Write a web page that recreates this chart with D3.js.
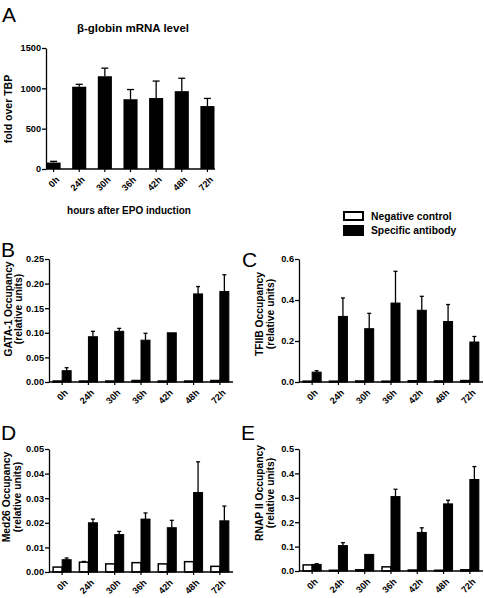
<!DOCTYPE html>
<html><head><meta charset="utf-8">
<script src="https://cdn.jsdelivr.net/npm/d3@7"></script>
<style>
html,body{margin:0;padding:0;background:#fff;}
svg{display:block;font-family:Arial,"Liberation Sans",Helvetica,sans-serif;}
</style></head>
<body>
<svg id="chart" width="484" height="598"></svg>
<script>
// ---------- data ----------
const categories = ["0h","24h","30h","36h","42h","48h","72h"];

// Panel A: beta-globin mRNA (fold over TBP)
const mrnaMean = [80, 1020, 1150, 865, 880, 965, 780];
const mrnaErr  = [15, 30, 100, 120, 210, 160, 95];
const mrnaTicks = [0, 500, 1000, 1500];

// Panel B: GATA-1
const gataNeg     = [0.002, 0.002, 0.002, 0.003, 0.002, 0.002, 0.003];
const gataNegErr  = [0, 0, 0, 0, 0, 0, 0];
const gataSpec    = [0.023, 0.092, 0.103, 0.085, 0.100, 0.179, 0.184];
const gataSpecErr = [0.006, 0.011, 0.006, 0.014, 0.001, 0.015, 0.034];
const gataTicks   = [0, 0.05, 0.10, 0.15, 0.20, 0.25];

// Panel C: TFIIB
const tfiibNeg     = [0.004, 0.004, 0.005, 0.004, 0.006, 0.005, 0.007];
const tfiibNegErr  = [0, 0, 0, 0, 0, 0, 0];
const tfiibSpec    = [0.048, 0.32, 0.26, 0.385, 0.35, 0.295, 0.195];
const tfiibSpecErr = [0.007, 0.09, 0.075, 0.155, 0.068, 0.083, 0.027];
const tfiibTicks   = [0, 0.2, 0.4, 0.6];

// Panel D: Med26
const medNeg     = [0.0020, 0.0040, 0.0033, 0.0038, 0.0033, 0.0042, 0.0023];
const medNegErr  = [0.0002, 0.0003, 0.0002, 0.0002, 0.0001, 0.0002, 0.0002];
const medSpec    = [0.0050, 0.0200, 0.0152, 0.0215, 0.0180, 0.0323, 0.0208];
const medSpecErr = [0.0007, 0.0015, 0.0013, 0.0025, 0.0030, 0.0125, 0.0060];
const medTicks   = [0, 0.01, 0.02, 0.03, 0.04, 0.05];

// Panel E: RNAP II
const rnapNeg     = [0.025, 0.003, 0.005, 0.017, 0.004, 0.003, 0.005];
const rnapNegErr  = [0.002, 0, 0, 0.002, 0, 0, 0];
const rnapSpec    = [0.027, 0.104, 0.068, 0.305, 0.158, 0.275, 0.375];
const rnapSpecErr = [0.003, 0.012, 0.001, 0.030, 0.019, 0.015, 0.053];
const rnapTicks   = [0, 0.1, 0.2, 0.3, 0.4, 0.5];

const legendLabels = ["Negative control", "Specific antibody"];

// ---------- drawing ----------
const svg = d3.select("#chart");
const FONT_TICK = 9.2;

function drawAxes(g, x, y, ticks, fmt, x0, x1, y0) {
  const yAxis = d3.axisLeft(y).tickValues(ticks).tickFormat(fmt).tickSize(4).tickSizeOuter(0);
  const ya = g.append("g").attr("transform", `translate(${x0},0)`).call(yAxis);
  ya.select(".domain").attr("stroke-width", 1.3);
  ya.selectAll(".tick line").attr("stroke-width", 1.3);
  ya.selectAll(".tick text").attr("font-size", FONT_TICK).attr("font-weight", "bold")
    .attr("font-family", "Arial, 'Liberation Sans', sans-serif").attr("x", -5).attr("fill", "#000");
  g.append("line").attr("x1", x0).attr("x2", x1).attr("y1", y0).attr("y2", y0)
    .attr("stroke", "#000").attr("stroke-width", 1.3);
  categories.forEach(c => {
    const cx = x(c) + x.bandwidth() / 2;
    g.append("line").attr("x1", cx).attr("x2", cx).attr("y1", y0).attr("y2", y0 + 3)
      .attr("stroke", "#000").attr("stroke-width", 1.2);
    g.append("text").attr("transform", `translate(${cx + 4},${y0 + 9}) rotate(-45)`)
      .attr("text-anchor", "end").attr("dy", "0.35em")
      .attr("font-size", FONT_TICK).attr("font-weight", "bold").text(c);
  });
}

function errBar(g, cx, yTop, yVal, cap) {
  if (Math.abs(yVal - yTop) < 0.5) return;
  g.append("line").attr("x1", cx).attr("x2", cx).attr("y1", yVal).attr("y2", yTop)
    .attr("stroke", "#000").attr("stroke-width", 1.3);
  g.append("line").attr("x1", cx - cap / 2).attr("x2", cx + cap / 2).attr("y1", yTop).attr("y2", yTop)
    .attr("stroke", "#000").attr("stroke-width", 1.3);
}

function yLabel(lines, cx, cy, size) {
  const t = svg.append("text").attr("transform", `translate(${cx},${cy}) rotate(-90)`)
    .attr("text-anchor", "middle").attr("font-size", size).attr("font-weight", "bold");
  lines.forEach((l, i) => t.append("tspan").attr("x", 0).attr("dy", i === 0 ? 0 : "1.05em").text(l));
}

function letter(s, x, y) {
  svg.append("text").attr("x", x).attr("y", y).attr("font-size", 21).text(s);
}

// ----- Panel A -----
{
  const x0 = 46, x1 = 215, yb = 169, yt = 48;
  const x = d3.scaleBand().domain(categories).range([x0, x1]).paddingInner(0.45).paddingOuter(0.02);
  const y = d3.scaleLinear().domain([0, 1500]).range([yb, yt]);
  const g = svg.append("g");
  categories.forEach((c, i) => {
    const cx = x(c) + x.bandwidth() / 2;
    errBar(g, cx, y(mrnaMean[i] + mrnaErr[i]), y(mrnaMean[i]), 7);
    g.append("rect").attr("x", x(c)).attr("width", x.bandwidth())
      .attr("y", y(mrnaMean[i])).attr("height", yb - y(mrnaMean[i])).attr("fill", "#000");
  });
  drawAxes(g, x, y, mrnaTicks, d3.format("d"), x0, x1, yb);
  svg.append("text").attr("x", 133).attr("y", 32).attr("text-anchor", "middle")
    .attr("font-size", 11.5).attr("font-weight", "bold").text("β-globin mRNA level");
  svg.append("text").attr("x", 129).attr("y", 214).attr("text-anchor", "middle")
    .attr("font-size", 10).attr("font-weight", "bold").text("hours after EPO induction");
  yLabel(["fold over TBP"], 12, 109, 10.5);
  letter("A", 2, 22);
}

// ----- paired panels -----
function pairedPanel(opt) {
  const { x0, x1, yb, yt, domainMax, ticks, fmt, neg, negErr, spec, specErr } = opt;
  const x = d3.scaleBand().domain(categories).range([x0, x1]).paddingInner(0.3).paddingOuter(0.15);
  const y = d3.scaleLinear().domain([0, domainMax]).range([yb, yt]);
  const g = svg.append("g");
  const bw = 9;
  categories.forEach((c, i) => {
    const cx = x(c) + x.bandwidth() / 2;
    errBar(g, cx - bw / 2, y(neg[i] + negErr[i]), y(neg[i]), 4);
    g.append("rect").attr("x", cx - bw).attr("width", bw)
      .attr("y", y(neg[i])).attr("height", Math.max(0, yb - y(neg[i])))
      .attr("fill", "#fff").attr("stroke", "#000").attr("stroke-width", 1.5);
    errBar(g, cx + bw / 2, y(spec[i] + specErr[i]), y(spec[i]), 4);
    g.append("rect").attr("x", cx).attr("width", bw)
      .attr("y", y(spec[i])).attr("height", yb - y(spec[i]))
      .attr("fill", "#000").attr("stroke", "#000").attr("stroke-width", 1);
  });
  drawAxes(g, x, y, ticks, fmt, x0, x1, yb);
}

pairedPanel({ x0: 49, x1: 233, yb: 382, yt: 259, domainMax: 0.25, ticks: gataTicks, fmt: d3.format(".2f"),
  neg: gataNeg, negErr: gataNegErr, spec: gataSpec, specErr: gataSpecErr });
yLabel(["GATA-1 Occupancy", "(relative units)"], 11.5, 309, 10.3);
letter("B", 1, 257);

pairedPanel({ x0: 299, x1: 483, yb: 382, yt: 259, domainMax: 0.6, ticks: tfiibTicks, fmt: d3.format(".1f"),
  neg: tfiibNeg, negErr: tfiibNegErr, spec: tfiibSpec, specErr: tfiibSpecErr });
yLabel(["TFIIB Occupancy", "(relative units)"], 263, 314, 10.3);
letter("C", 242, 267);

pairedPanel({ x0: 49, x1: 233, yb: 572, yt: 449, domainMax: 0.05, ticks: medTicks, fmt: d3.format(".2f"),
  neg: medNeg, negErr: medNegErr, spec: medSpec, specErr: medSpecErr });
yLabel(["Med26 Occupancy", "(relative units)"], 10, 497, 10.3);
letter("D", 1, 440);

pairedPanel({ x0: 299, x1: 483, yb: 571, yt: 449, domainMax: 0.5, ticks: rnapTicks, fmt: d3.format(".1f"),
  neg: rnapNeg, negErr: rnapNegErr, spec: rnapSpec, specErr: rnapSpecErr });
yLabel(["RNAP II Occupancy", "(relative units)"], 263, 493, 10.3);
letter("E", 241, 440);

// ----- legend -----
{
  const lg = svg.append("g");
  lg.append("rect").attr("x", 344).attr("y", 212).attr("width", 19).attr("height", 8)
    .attr("fill", "#fff").attr("stroke", "#000").attr("stroke-width", 2);
  lg.append("rect").attr("x", 343).attr("y", 225).attr("width", 21).attr("height", 11).attr("fill", "#000");
  lg.append("text").attr("x", 371).attr("y", 216).attr("dy", "0.35em").attr("font-size", 10.3)
    .attr("font-weight", "bold").text(legendLabels[0]);
  lg.append("text").attr("x", 371).attr("y", 230.5).attr("dy", "0.35em").attr("font-size", 10.3)
    .attr("font-weight", "bold").text(legendLabels[1]);
}
</script>
</body></html>
